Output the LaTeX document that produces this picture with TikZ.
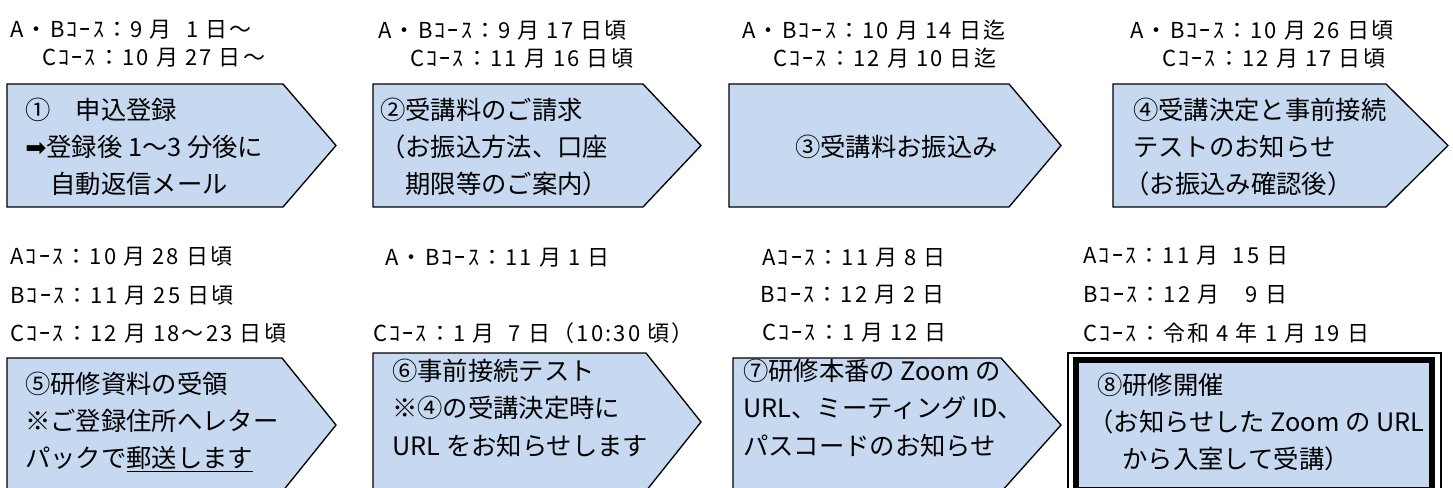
\documentclass[tikz,border=0pt]{standalone}
\usepackage{fontspec}
\usepackage{tikz}
\setmainfont{Noto Sans CJK JP}
\newfontfamily\datefont[LetterSpace=10]{Noto Sans CJK JP}
\newfontfamily\symfont{DejaVu Sans}
\definecolor{stepblue}{RGB}{198,217,241}
\newcommand\boxfont{\fontsize{19pt}{28pt}\selectfont}
\newcommand\datesize{\datefont\fontsize{16.5pt}{21pt}\selectfont}
\newcommand\openparen{\hspace{-0.35em}（}

\begin{document}
\begin{tikzpicture}[x=0.75pt, y=-0.75pt,
  flowbox/.style={draw, line width=1pt, fill=stepblue},
  boxtext/.style={anchor=west, align=left, inner sep=0pt, font=\boxfont},
  datetext/.style={anchor=west, inner sep=0pt, font=\datesize}]
  \clip (0,0) rectangle (1453,487);

  % upper row
  \draw[flowbox] (7,84) -- (283,84) -- (336,145.5) -- (283,207) -- (7,207) -- cycle;
  \draw[flowbox] (373,84) -- (643,84) -- (701,145.5) -- (643,207) -- (373,207) -- cycle;
  \draw[flowbox] (729,84) -- (1009,84) -- (1061,145.5) -- (1009,207) -- (729,207) -- cycle;
  \draw[flowbox] (1113,84) -- (1386,84) -- (1448,145.5) -- (1386,207) -- (1113,207) -- cycle;

  \node[boxtext] (apply) at (25,147) {①　申込登録\\{\symfont ➡}登録後 1～3 分後に\\　自動返信メール};
  \node[boxtext] (invoice) at (380,147) {②受講料のご請求\\（お振込方法、口座\\　期限等のご案内）};
  \node[boxtext] (payment) at (795,147) {③受講料お振込み};
  \node[boxtext] (notice) at (1133,147) {④受講決定と事前接続\\テストのお知らせ\\\openparen お振込み確認後）};

  \node[datetext] (apply ab) at (10,30) {A・Bｺｰｽ：9 月~ 1 日～};
  \node[datetext] (apply c) at (42,58) {Cｺｰｽ：10 月 27 日～};
  \node[datetext] (invoice ab) at (378,30) {A・Bｺｰｽ：9 月 17 日頃};
  \node[datetext] (invoice c) at (410,58) {Cｺｰｽ：11 月 16 日頃};
  \node[datetext] (payment ab) at (742,30) {A・Bｺｰｽ：10 月 14 日迄};
  \node[datetext] (payment c) at (773,58) {Cｺｰｽ：12 月 10 日迄};
  \node[datetext] (notice ab) at (1130,30) {A・Bｺｰｽ：10 月 26 日頃};
  \node[datetext] (notice c) at (1162,58) {Cｺｰｽ：12 月 17 日頃};

  % lower row
  \draw[flowbox] (7,358) -- (282,358) -- (336,425) -- (282,492) -- (7,492) -- cycle;
  \draw[flowbox] (373,353) -- (646,353) -- (701,422) -- (646,491) -- (373,491) -- cycle;
  \draw[flowbox] (733,358) -- (1001,358) -- (1061,425) -- (1001,492) -- (733,492) -- cycle;
  \draw[line width=4.5pt, fill=stepblue] (1075.5,360) rectangle (1432,490);
  \draw[line width=0.8pt] (1068,353) rectangle (1441,497);

  \node[boxtext] (material) at (25,422) {⑤研修資料の受領\\※ご登録住所へレター\\パックで\underline{郵送します}};
  \node[boxtext] (pretest) at (392,408) {⑥事前接続テスト\\※④の受講決定時に\\URL をお知らせします};
  \node[boxtext] (zoominfo) at (743,408) {⑦研修本番の Zoom の\\URL、ミーティング ID、\\パスコードのお知らせ};
  \node[boxtext] (seminar) at (1097,422) {⑧研修開催\\\openparen お知らせした Zoom の URL\\　から入室して受講）};

  \node[datetext] (material a) at (10,256) {Aｺｰｽ：10 月 28 日頃};
  \node[datetext] (material b) at (10,295) {Bｺｰｽ：11 月 25 日頃};
  \node[datetext] (material c) at (10,333) {Cｺｰｽ：12 月 18～23 日頃};
  \node[datetext] (pretest ab) at (385,258) {A・Bｺｰｽ：11 月 1 日};
  \node[datetext] (pretest c) at (373,333) {Cｺｰｽ：1 月~ 7 日（10:30 頃）};
  \node[datetext] (zoominfo a) at (762,258) {Aｺｰｽ：11 月 8 日};
  \node[datetext] (zoominfo b) at (760,295) {Bｺｰｽ：12 月 2 日};
  \node[datetext] (zoominfo c) at (762,333) {Cｺｰｽ：1 月 12 日};
  \node[datetext] (seminar a) at (1083,256) {Aｺｰｽ：11 月~ 15 日};
  \node[datetext] (seminar b) at (1083,295) {Bｺｰｽ：12 月　9 日};
  \node[datetext] (seminar c) at (1083,333) {Cｺｰｽ：令和 4 年 1 月 19 日};
\end{tikzpicture}
\end{document}
